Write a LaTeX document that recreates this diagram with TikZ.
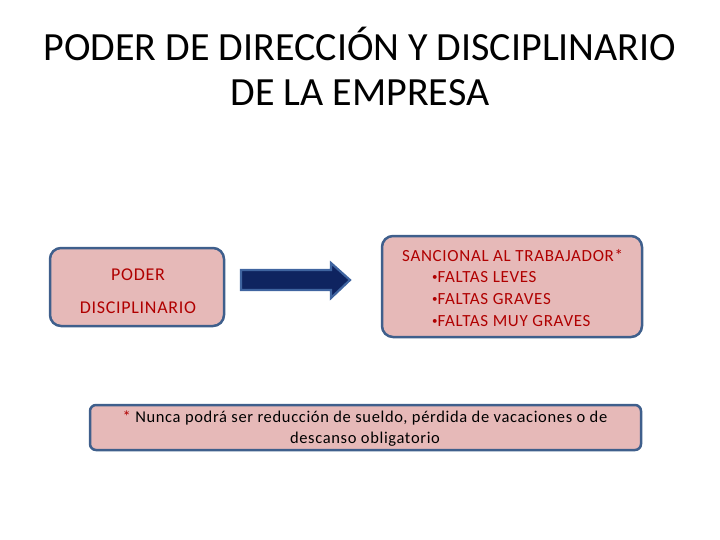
\documentclass[tikz,border=0pt]{standalone}
\usepackage{fontspec}
\setmainfont{Carlito}
\newfontfamily\spaced[LetterSpace=4]{Carlito}
\definecolor{boxfill}{HTML}{E6B9B8}
\definecolor{boxline}{HTML}{3F5F8C}
\definecolor{txtred}{HTML}{B00000}
\definecolor{arrfill}{HTML}{0F2460}
\definecolor{arrline}{HTML}{3F64A0}
\newcommand{\smbul}{{\fontsize{11}{11}\selectfont\raisebox{1.5pt}{•}}}
\begin{document}
\begin{tikzpicture}[x=1pt,y=-1pt,
  pinkbox/.style={draw=boxline,line width=2.5pt,fill=boxfill,rounded corners=11pt,inner sep=0pt},
  redtxt/.style={text=txtred,font=\spaced\fontsize{18}{21}\selectfont,inner sep=0pt,anchor=base},
  redtxt2/.style={text=txtred,font=\spaced\fontsize{17}{20}\selectfont,inner sep=0pt,anchor=base west},
  blktxt/.style={font=\spaced\fontsize{16.5}{19}\selectfont,inner sep=0pt,anchor=base}]
\useasboundingbox (0,0) rectangle (720,540);
% title
\node[font=\fontsize{40}{48}\selectfont,anchor=base] (t1) at (360,61) {PODER DE DIRECCIÓN Y DISCIPLINARIO};
\node[font=\fontsize{40}{48}\selectfont,anchor=base] (t2) at (360,106) {DE LA EMPRESA};
% left box
\node[pinkbox,minimum width=174pt,minimum height=78pt] (L) at (137,287) {};
\node[redtxt] (L1) at (138,280) {PODER};
\node[redtxt] (L2) at (138,313) {DISCIPLINARIO};
% arrow
\draw[draw=arrline,fill=arrfill,line width=2.2pt,line join=miter]
  (241,270) -- (331,270) -- (331,263) -- (350,280) -- (331,298) -- (331,290) -- (241,290) -- cycle;
% right box
\node[pinkbox,minimum width=260pt,minimum height=101pt] (R) at (512,286.5) {};
\node[redtxt2] (R1) at (402,261) {SANCIONAL AL TRABAJADOR*};
\node[redtxt2] (R2) at (432,282) {\smbul FALTAS LEVES};
\node[redtxt2] (R3) at (432,304) {\smbul FALTAS GRAVES};
\node[redtxt2] (R4) at (432,326) {\smbul FALTAS MUY GRAVES};
% bottom box
\node[pinkbox,minimum width=551pt,minimum height=45pt,rounded corners=6pt] (B) at (365.5,427.5) {};
\node[blktxt] (B1) at (365,422) {\textcolor{txtred}{*} Nunca podrá ser reducción de sueldo, pérdida de vacaciones o de};
\node[blktxt] (B2) at (365,443) {descanso obligatorio};
\end{tikzpicture}
\end{document}
